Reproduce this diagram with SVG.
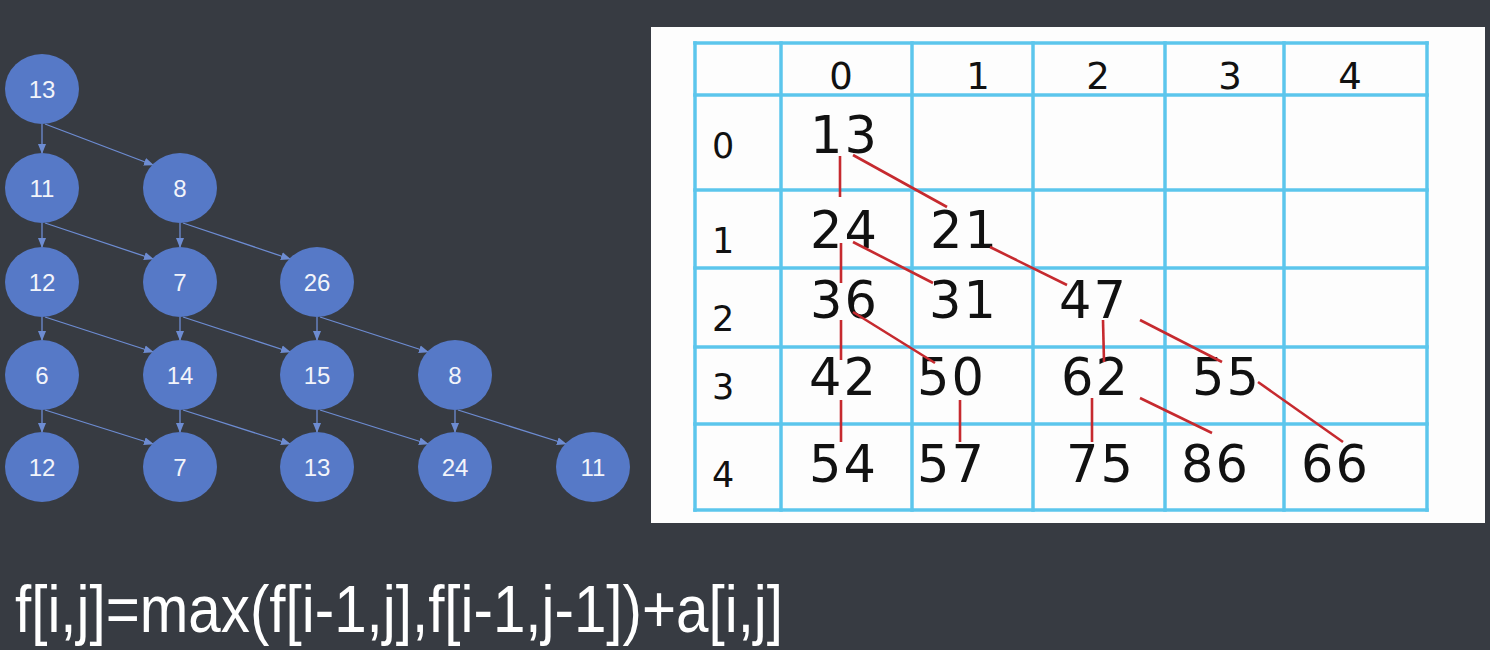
<svg xmlns="http://www.w3.org/2000/svg" width="1490" height="650" viewBox="0 0 1490 650">
<defs>
<style>
.node ellipse{fill:#5679c7;}
.node text{fill:#f2f4fa;font-family:"Liberation Sans",Arial,sans-serif;font-size:24px;text-anchor:middle;}
.edge{stroke:#6d8cd2;stroke-width:1.3;fill:none;marker-end:url(#ah);}
.grid line{stroke:#5cc6ec;stroke-width:3.5;stroke-linecap:square;}
.hdr{font-family:"DejaVu Sans",Verdana,sans-serif;font-size:37px;fill:#111;text-anchor:middle;}
.rowl{font-family:"DejaVu Sans",Verdana,sans-serif;font-size:35px;fill:#111;}
.val{font-family:"DejaVu Sans",Verdana,sans-serif;font-size:51px;letter-spacing:2px;fill:#111;}
.red line{stroke:#c62a2f;stroke-width:2.6;}
</style>
<marker id="ah" markerUnits="userSpaceOnUse" markerWidth="10" markerHeight="10" viewBox="0 0 10 10" refX="9" refY="5" orient="auto">
<path d="M0,1 L10,5 L0,9 z" fill="#6d8cd2"/>
</marker>
</defs>
<rect x="0" y="0" width="1490" height="650" fill="#373b42"/>

<g id="connectors">
<line class="edge" x1="42" y1="124" x2="42" y2="153"/>
<line class="edge" x1="45" y1="124" x2="153" y2="165"/>
<line class="edge" x1="42" y1="223" x2="42" y2="247"/>
<line class="edge" x1="45" y1="223" x2="153" y2="259"/>
<line class="edge" x1="180" y1="223" x2="180" y2="247"/>
<line class="edge" x1="183" y1="223" x2="290" y2="259"/>
<line class="edge" x1="42" y1="317" x2="42" y2="340"/>
<line class="edge" x1="45" y1="317" x2="153" y2="352"/>
<line class="edge" x1="180" y1="317" x2="180" y2="340"/>
<line class="edge" x1="183" y1="317" x2="290" y2="352"/>
<line class="edge" x1="317" y1="317" x2="317" y2="340"/>
<line class="edge" x1="320" y1="317" x2="428" y2="352"/>
<line class="edge" x1="42" y1="410" x2="42" y2="432"/>
<line class="edge" x1="45" y1="410" x2="153" y2="444"/>
<line class="edge" x1="180" y1="410" x2="180" y2="432"/>
<line class="edge" x1="183" y1="410" x2="290" y2="444"/>
<line class="edge" x1="317" y1="410" x2="317" y2="432"/>
<line class="edge" x1="320" y1="410" x2="428" y2="444"/>
<line class="edge" x1="455" y1="410" x2="455" y2="432"/>
<line class="edge" x1="458" y1="410" x2="566" y2="444"/>
</g>

<g id="n00" class="node"><ellipse cx="42" cy="89" rx="37" ry="35"/><text x="42" y="98">13</text></g>
<g id="n10" class="node"><ellipse cx="42" cy="188" rx="37" ry="35"/><text x="42" y="197">11</text></g>
<g id="n11" class="node"><ellipse cx="180" cy="188" rx="37" ry="35"/><text x="180" y="197">8</text></g>
<g id="n20" class="node"><ellipse cx="42" cy="282" rx="37" ry="35"/><text x="42" y="291">12</text></g>
<g id="n21" class="node"><ellipse cx="180" cy="282" rx="37" ry="35"/><text x="180" y="291">7</text></g>
<g id="n22" class="node"><ellipse cx="317" cy="282" rx="37" ry="35"/><text x="317" y="291">26</text></g>
<g id="n30" class="node"><ellipse cx="42" cy="375" rx="37" ry="35"/><text x="42" y="384">6</text></g>
<g id="n31" class="node"><ellipse cx="180" cy="375" rx="37" ry="35"/><text x="180" y="384">14</text></g>
<g id="n32" class="node"><ellipse cx="317" cy="375" rx="37" ry="35"/><text x="317" y="384">15</text></g>
<g id="n33" class="node"><ellipse cx="455" cy="375" rx="37" ry="35"/><text x="455" y="384">8</text></g>
<g id="n40" class="node"><ellipse cx="42" cy="467" rx="37" ry="35"/><text x="42" y="476">12</text></g>
<g id="n41" class="node"><ellipse cx="180" cy="467" rx="37" ry="35"/><text x="180" y="476">7</text></g>
<g id="n42" class="node"><ellipse cx="317" cy="467" rx="37" ry="35"/><text x="317" y="476">13</text></g>
<g id="n43" class="node"><ellipse cx="455" cy="467" rx="37" ry="35"/><text x="455" y="476">24</text></g>
<g id="n44" class="node"><ellipse cx="593" cy="467" rx="37" ry="35"/><text x="593" y="476">11</text></g>

<g id="table">
<rect x="651" y="27" width="834" height="496" fill="#fdfdfd"/>
<g class="grid">
<line x1="695" y1="43" x2="1427" y2="43"/>
<line x1="695" y1="95" x2="1427" y2="95"/>
<line x1="695" y1="190" x2="1427" y2="190"/>
<line x1="695" y1="268" x2="1427" y2="268"/>
<line x1="695" y1="347" x2="1427" y2="347"/>
<line x1="695" y1="424" x2="1427" y2="424"/>
<line x1="695" y1="510" x2="1427" y2="510"/>
<line x1="695" y1="43" x2="695" y2="510"/>
<line x1="781" y1="43" x2="781" y2="510"/>
<line x1="912" y1="43" x2="912" y2="510"/>
<line x1="1033" y1="43" x2="1033" y2="510"/>
<line x1="1165" y1="43" x2="1165" y2="510"/>
<line x1="1284" y1="43" x2="1284" y2="510"/>
<line x1="1427" y1="43" x2="1427" y2="510"/>
</g>
<text class="hdr" x="841" y="89">0</text>
<text class="hdr" x="978" y="89">1</text>
<text class="hdr" x="1098" y="89">2</text>
<text class="hdr" x="1230" y="89">3</text>
<text class="hdr" x="1350" y="89">4</text>
<text class="rowl" x="712" y="158">0</text>
<text class="rowl" x="712" y="253">1</text>
<text class="rowl" x="712" y="331">2</text>
<text class="rowl" x="712" y="399">3</text>
<text class="rowl" x="712" y="487">4</text>
<text class="val" x="810" y="153">13</text>
<text class="val" x="810" y="248">24</text>
<text class="val" x="930" y="248">21</text>
<text class="val" x="810" y="318">36</text>
<text class="val" x="929" y="318">31</text>
<text class="val" x="1059" y="318">47</text>
<text class="val" x="809" y="395">42</text>
<text class="val" x="917" y="395">50</text>
<text class="val" x="1061" y="395">62</text>
<text class="val" x="1192" y="395">55</text>
<text class="val" x="809" y="482">54</text>
<text class="val" x="917" y="482">57</text>
<text class="val" x="1066" y="482">75</text>
<text class="val" x="1181" y="482">86</text>
<text class="val" x="1301" y="482">66</text>
<g class="red">
<line x1="840" y1="156" x2="840" y2="197"/>
<line x1="853" y1="155" x2="947" y2="207"/>
<line x1="841" y1="243" x2="841" y2="283"/>
<line x1="853" y1="242" x2="933" y2="283"/>
<line x1="990" y1="247" x2="1067" y2="285"/>
<line x1="841" y1="320" x2="841" y2="360"/>
<line x1="853" y1="312" x2="935" y2="363"/>
<line x1="841" y1="400" x2="841" y2="442"/>
<line x1="960" y1="400" x2="960" y2="442"/>
<line x1="1103" y1="320" x2="1104" y2="362"/>
<line x1="1140" y1="320" x2="1222" y2="362"/>
<line x1="1092" y1="398" x2="1092" y2="442"/>
<line x1="1140" y1="398" x2="1212" y2="433"/>
<line x1="1258" y1="382" x2="1343" y2="442"/>
</g>
</g>

<text x="15" y="632" fill="#ffffff" font-family="'Liberation Sans',Arial,sans-serif" font-size="66" textLength="768" lengthAdjust="spacingAndGlyphs">f[i,j]=max(f[i-1,j],f[i-1,j-1])+a[i,j]</text>
</svg>
